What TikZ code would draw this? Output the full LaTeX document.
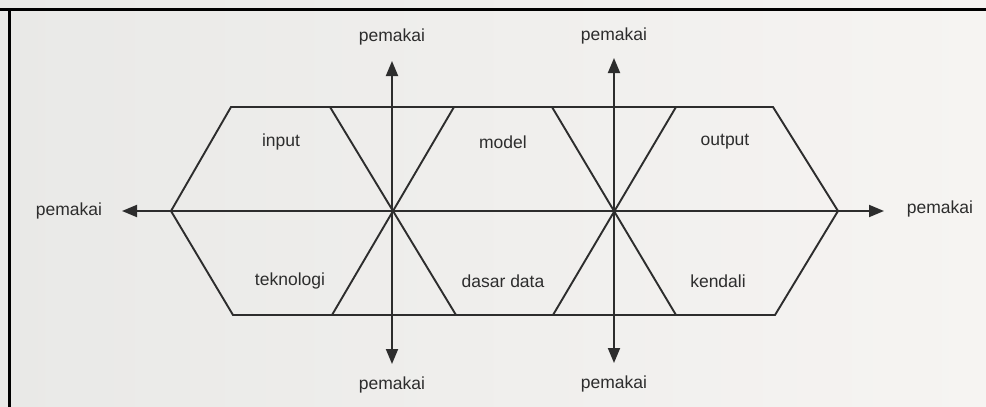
\documentclass[tikz,border=0pt]{standalone}
\usepackage{fontspec}
\setmainfont{Liberation Sans}
\usetikzlibrary{arrows.meta}
\definecolor{ink}{RGB}{45,45,45}
\definecolor{bgleft}{RGB}{233,233,231}
\definecolor{bgright}{RGB}{246,244,242}
\tikzset{
  lbl/.style={inner sep=0pt, text=ink, font=\fontsize{17.5}{20}\selectfont},
  edge/.style={draw=ink, line width=1.9pt, line join=miter},
  arr/.style={draw=ink, line width=1.9pt, -{Triangle[length=15pt,width=12pt]}},
  frame/.style={draw=black, line width=3pt}
}
\begin{document}
\begin{tikzpicture}[x=1pt,y=-1pt]
\useasboundingbox (0,0) rectangle (986,407);
\shade[left color=bgleft, right color=bgright] (0,0) rectangle (986,407);
% frame (top and left)
\coordinate (f0) at (0,9);
\coordinate (f1) at (986,9);
\coordinate (f2) at (9,9);
\coordinate (f3) at (9,407);
\draw[frame] (f0) -- (f1);
\draw[frame] (f2) -- (f3);
% hexagon corners
\coordinate (TL) at (231,107);
\coordinate (TR) at (773,107);
\coordinate (R)  at (838,211);
\coordinate (BR) at (775,315);
\coordinate (BL) at (233,315);
\coordinate (L)  at (171,211);
% centres
\coordinate (C1) at (392,211);
\coordinate (C2) at (614,211);
% triangle points
\coordinate (t1a) at (330,107);
\coordinate (t1b) at (454,107);
\coordinate (b1a) at (332,315);
\coordinate (b1b) at (456,315);
\coordinate (t2a) at (552,107);
\coordinate (t2b) at (676,107);
\coordinate (b2a) at (553,315);
\coordinate (b2b) at (676,315);
\draw[edge] (TL) -- (TR) -- (R) -- (BR) -- (BL) -- (L) -- cycle;
\draw[edge] (t1a) -- (b1b);
\draw[edge] (t1b) -- (b1a);
\draw[edge] (t2a) -- (b2b);
\draw[edge] (t2b) -- (b2a);
\draw[edge] (L) -- (R);
% arrow ends
\coordinate (u1) at (392,61);
\coordinate (d1) at (392,364);
\coordinate (u2) at (614,58);
\coordinate (d2) at (614,363);
\coordinate (lf) at (122,211);
\coordinate (rt) at (884,211);
\draw[arr] (C1) -- (u1);
\draw[arr] (C1) -- (d1);
\draw[arr] (C2) -- (u2);
\draw[arr] (C2) -- (d2);
\draw[arr] (C1) -- (lf);
\draw[arr] (C2) -- (rt);
% labels
\node[lbl] (pu1) at (392,37) {pemakai};
\node[lbl] (pu2) at (614,36) {pemakai};
\node[lbl] (pd1) at (392,385) {pemakai};
\node[lbl] (pd2) at (614,384) {pemakai};
\node[lbl] (pl) at (69,211) {pemakai};
\node[lbl] (pr) at (940,209) {pemakai};
\node[lbl] (in) at (281,142) {input};
\node[lbl] (mo) at (503,142) {model};
\node[lbl] (ou) at (725,142) {output};
\node[lbl] (te) at (290,281) {teknologi};
\node[lbl] (dd) at (503,281) {dasar data};
\node[lbl] (ke) at (718,281) {kendali};
\end{tikzpicture}
\end{document}
